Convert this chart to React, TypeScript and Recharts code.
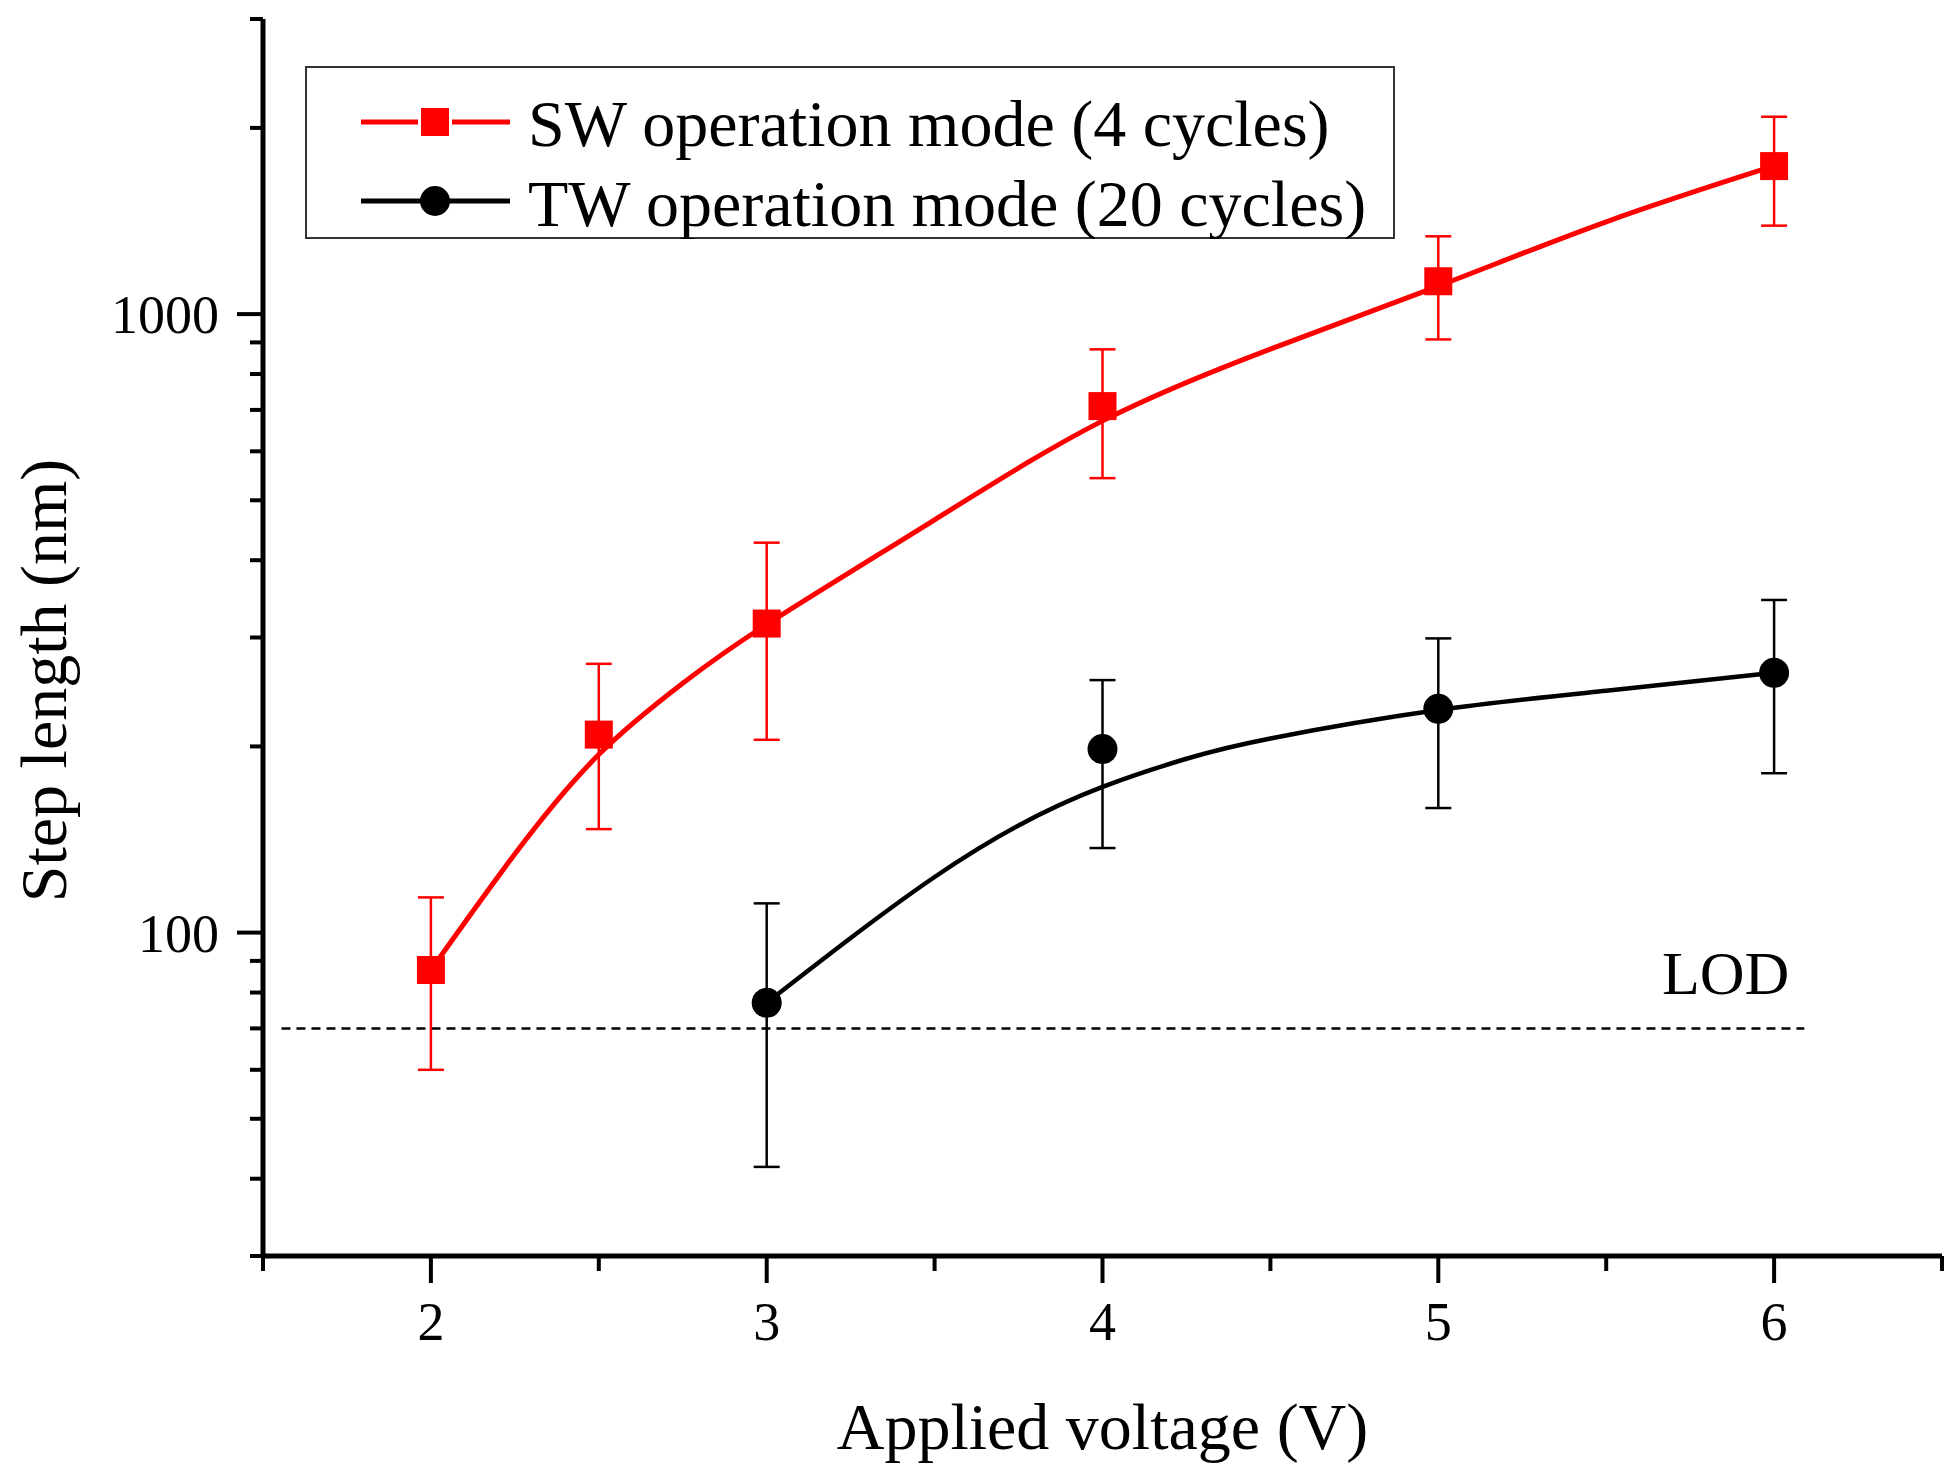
import {
  ComposedChart,
  ErrorBar,
  Legend,
  Line,
  ReferenceLine,
  Scatter,
  XAxis,
  YAxis,
} from "recharts";

const FONT = '"Liberation Serif", "Times New Roman", serif';
const RED = "#ff0000";

// SW operation mode (4 cycles): measured points with error bar ends
const swVoltage = [2, 2.5, 3, 4, 5, 6];
const swStep = [87, 209, 316, 710, 1130, 1735];
const swLow = [60, 147, 205, 543, 910, 1390];
const swHigh = [114, 272, 427, 877, 1336, 2085];

// TW operation mode (20 cycles)
const twVoltage = [3, 4, 5, 6];
const twStep = [77, 198, 230, 263];
const twLow = [41.8, 137, 159, 181];
const twHigh = [111.5, 256, 299, 345];

// fitted curves
const swFitVoltage = [2, 2.25, 2.5, 2.75, 3, 3.5, 4, 4.5, 5, 5.5, 6];
const swFitStep = [87, 134, 194, 253, 315, 465, 672, 878, 1110, 1410, 1736];
const twFitVoltage = [3, 3.25, 3.5, 3.75, 4, 4.25, 4.5, 5, 5.5, 6];
const twFitStep = [77, 98, 123, 149, 172, 191, 206, 229, 246, 263];

const xTicks = [1.5, 2, 2.5, 3, 3.5, 4, 4.5, 5, 5.5, 6, 6.5];
const xLabelled = [2, 3, 4, 5, 6];
const yTicks = [30, 40, 50, 60, 70, 80, 90, 100, 200, 300, 400, 500, 600, 700, 800, 900, 1000, 2000, 3000];
const yLabelled = [100, 1000];

const lodStep = 70;
const lodFrom = 1.555;
const lodTo = 6.09;

const points = (xs: number[], ys: number[], lo: number[], hi: number[]) =>
  xs.map((x, i) => ({ x, y: ys[i], err: [ys[i] - lo[i], hi[i] - ys[i]] }));
const curve = (xs: number[], ys: number[]) => xs.map((x, i) => ({ x, y: ys[i] }));

const swPoints = points(swVoltage, swStep, swLow, swHigh);
const twPoints = points(twVoltage, twStep, twLow, twHigh);
const swFit = curve(swFitVoltage, swFitStep);
const twFit = curve(twFitVoltage, twFitStep);

function XTick(props: any) {
  const { x, y, payload } = props;
  const major = xLabelled.includes(payload.value);
  return (
    <g>
      <line x1={x} x2={x} y1={y} y2={y + (major ? 27 : 15)} stroke="#000" strokeWidth={4} />
      {major && (
        <text x={x} y={y + 84} textAnchor="middle" fontFamily={FONT} fontSize={54} fill="#000">
          {payload.value}
        </text>
      )}
    </g>
  );
}

function YTick(props: any) {
  const { x, y, payload } = props;
  const major = yLabelled.includes(payload.value);
  return (
    <g>
      <line x1={x - (major ? 26 : 13)} x2={x} y1={y} y2={y} stroke="#000" strokeWidth={4} />
      {major && (
        <text x={x - 44} y={y + 19} textAnchor="end" fontFamily={FONT} fontSize={54} fill="#000">
          {payload.value}
        </text>
      )}
    </g>
  );
}

function Square(props: any) {
  const { cx, cy } = props;
  return <rect x={cx - 14} y={cy - 14} width={28} height={28} fill={RED} />;
}

function Dot(props: any) {
  const { cx, cy } = props;
  return <circle cx={cx} cy={cy} r={15} fill="#000" />;
}

function LegendBox() {
  return (
    <svg width={1090} height={173} style={{ display: "block" }}>
      <rect x={1} y={1} width={1088} height={171} fill="#fff" stroke="#333" strokeWidth={2} />
      <line x1={56} x2={113} y1={56} y2={56} stroke={RED} strokeWidth={5} />
      <line x1={147} x2={205} y1={56} y2={56} stroke={RED} strokeWidth={5} />
      <rect x={116} y={42} width={28} height={28} fill={RED} />
      <text x={223} y={80} fontFamily={FONT} fontSize={66} fill="#000">
        SW operation mode (4 cycles)
      </text>
      <line x1={56} x2={205} y1={135} y2={135} stroke="#000" strokeWidth={5} />
      <circle cx={130} cy={135} r={15} fill="#000" />
      <text x={223} y={160} fontFamily={FONT} fontSize={66} fill="#000">
        TW operation mode (20 cycles)
      </text>
    </svg>
  );
}

export default function App() {
  return (
    <div style={{ position: "absolute", left: 0, top: 0, width: 1950, height: 1479, background: "#fff" }}>
      <ComposedChart width={1950} height={1479} margin={{ top: 19, right: 8, bottom: 0, left: 0 }}>
        <XAxis
          dataKey="x"
          type="number"
          domain={[1.5, 6.5]}
          ticks={xTicks}
          interval={0}
          height={223}
          tickSize={0}
          tickMargin={0}
          tickLine={false}
          axisLine={{ stroke: "#000", strokeWidth: 5 }}
          tick={XTick}
          allowDataOverflow
          label={{
            content: (p: any) => (
              <text
                x={p.viewBox.x + p.viewBox.width / 2}
                y={p.viewBox.y + 193}
                textAnchor="middle"
                fontFamily={FONT}
                fontSize={66}
                fill="#000"
              >
                Applied voltage (V)
              </text>
            ),
          }}
        />
        <YAxis
          dataKey="y"
          type="number"
          scale="log"
          domain={[30, 3000]}
          ticks={yTicks}
          interval={0}
          width={263}
          tickSize={0}
          tickMargin={0}
          tickLine={false}
          axisLine={{ stroke: "#000", strokeWidth: 5 }}
          tick={YTick}
          allowDataOverflow
          label={{
            content: (p: any) => {
              const cx = 66;
              const cy = p.viewBox.y + p.viewBox.height / 2 + 43;
              return (
                <text
                  x={cx}
                  y={cy}
                  transform={`rotate(-90 ${cx} ${cy})`}
                  textAnchor="middle"
                  fontFamily={FONT}
                  fontSize={66}
                  fill="#000"
                >
                  Step length (nm)
                </text>
              );
            },
          }}
        />
        <ReferenceLine
          segment={[
            { x: lodFrom, y: lodStep },
            { x: lodTo, y: lodStep },
          ]}
          stroke="#000"
          strokeWidth={2.5}
          strokeDasharray="9 6"
          label={{
            content: (p: any) => (
              <text
                x={p.viewBox.x + p.viewBox.width - 15}
                y={p.viewBox.y - 34}
                textAnchor="end"
                fontFamily={FONT}
                fontSize={62}
                fill="#000"
              >
                LOD
              </text>
            ),
          }}
        />
        <Line
          data={swFit}
          dataKey="y"
          type="natural"
          stroke={RED}
          strokeWidth={5}
          dot={false}
          activeDot={false}
          isAnimationActive={false}
          legendType="none"
        />
        <Line
          data={twFit}
          dataKey="y"
          type="natural"
          stroke="#000"
          strokeWidth={4.5}
          dot={false}
          activeDot={false}
          isAnimationActive={false}
          legendType="none"
        />
        <Scatter data={swPoints} dataKey="y" shape={Square} isAnimationActive={false}>
          <ErrorBar dataKey="err" direction="y" width={13} stroke={RED} strokeWidth={2.5} isAnimationActive={false} />
        </Scatter>
        <Scatter data={twPoints} dataKey="y" shape={Dot} isAnimationActive={false}>
          <ErrorBar dataKey="err" direction="y" width={13} stroke="#000" strokeWidth={2.5} isAnimationActive={false} />
        </Scatter>
        <Legend
          layout="horizontal"
          verticalAlign="middle"
          align="center"
          content={() => <LegendBox />}
          wrapperStyle={{ left: 305, top: 66, width: 1090, height: 173, margin: 0, padding: 0 }}
        />
      </ComposedChart>
    </div>
  );
}
